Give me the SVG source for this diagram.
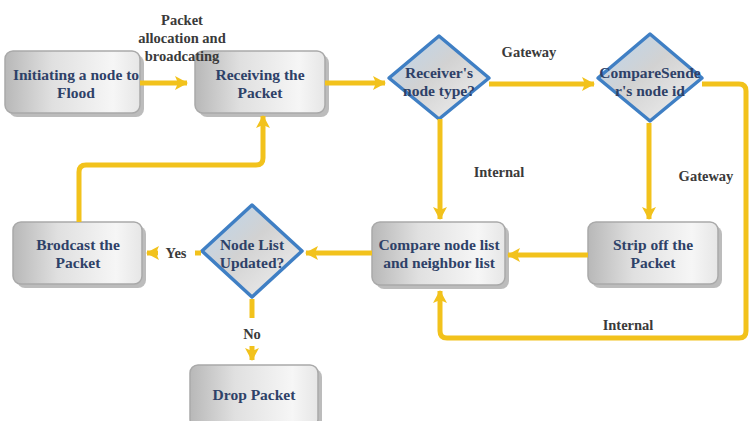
<svg xmlns="http://www.w3.org/2000/svg" width="752" height="421" viewBox="0 0 752 421">
<defs>
<linearGradient id="boxg" x1="0" y1="0" x2="1" y2="0">
<stop offset="0" stop-color="#b8b8b8"/>
<stop offset="0.35" stop-color="#e0e0e0"/>
<stop offset="0.8" stop-color="#f6f6f6"/>
<stop offset="1" stop-color="#e6e6e6"/>
</linearGradient>
<linearGradient id="diag" x1="0" y1="0" x2="1" y2="1">
<stop offset="0" stop-color="#b9d6f2"/>
<stop offset="0.45" stop-color="#d2d2d2"/>
<stop offset="0.75" stop-color="#e4e4e4"/>
<stop offset="1" stop-color="#c9dcf0"/>
</linearGradient>
<marker id="ah" markerUnits="userSpaceOnUse" markerWidth="14" markerHeight="14" viewBox="0 0 14 14" refX="12" refY="7" orient="auto">
<path d="M0,0 L13,7 L0,14 L3,7 Z" fill="#f2c21c"/>
</marker>
</defs>
<style>
.box{fill:url(#boxg);stroke:#a9a9a9;stroke-width:1.5}
.shadow{fill:#7a7a7a;opacity:0.5}
.dia{fill:url(#diag);stroke:#3f7fc4;stroke-width:3.5;stroke-linejoin:round}
.nt{font-family:"Liberation Serif","DejaVu Serif","Times New Roman",serif;font-weight:bold;font-size:15.5px;fill:#2e4168;text-anchor:middle}
.lb{font-family:"Liberation Serif","DejaVu Serif","Times New Roman",serif;font-weight:bold;font-size:14.5px;fill:#3a3a3a;text-anchor:middle}
.cn{fill:none;stroke:#f2c21c;stroke-width:5;stroke-linejoin:round}
</style>
<rect width="752" height="421" fill="#ffffff"/>
<g id="n-init">
<rect class="shadow" x="9" y="55" width="135" height="62" rx="8"/>
<rect class="box" x="5" y="51" width="135" height="62" rx="8"/>
<text class="nt" x="76" y="80">Initiating a node to</text>
<text class="nt" x="76" y="98">Flood</text>
</g>
<g id="n-recv">
<rect class="shadow" x="199" y="55" width="130" height="62" rx="8"/>
<rect class="box" x="195" y="51" width="130" height="62" rx="8"/>
<text class="nt" x="260" y="80">Receiving the</text>
<text class="nt" x="260" y="98">Packet</text>
</g>
<g id="d-type">
<path class="dia" d="M439,36 L489,78 L439,119 L389,78 Z"/>
<text class="nt" x="439" y="78">Receiver's</text>
<text class="nt" x="439" y="96">node type?</text>
</g>
<g id="d-compare">
<path class="dia" d="M650,34 L702,78 L650,121 L598,78 Z"/>
<text class="nt" x="650" y="78">CompareSende</text>
<text class="nt" x="650" y="96">r's node id</text>
</g>
<g id="n-comparelist">
<rect class="shadow" x="376" y="226" width="133" height="63" rx="8"/>
<rect class="box" x="372" y="222" width="133" height="63" rx="8"/>
<text class="nt" x="439" y="250">Compare node list</text>
<text class="nt" x="439" y="268">and neighbor list</text>
</g>
<g id="n-strip">
<rect class="shadow" x="592" y="226" width="130" height="62" rx="8"/>
<rect class="box" x="588" y="222" width="130" height="62" rx="8"/>
<text class="nt" x="653" y="250">Strip off the</text>
<text class="nt" x="653" y="268">Packet</text>
</g>
<g id="d-updated">
<path class="dia" d="M252,205 L302,251 L252,297 L202,251 Z"/>
<text class="nt" x="252" y="250">Node List</text>
<text class="nt" x="252" y="268">Updated?</text>
</g>
<g id="n-broadcast">
<rect class="shadow" x="17" y="226" width="129" height="62" rx="8"/>
<rect class="box" x="13" y="222" width="129" height="62" rx="8"/>
<text class="nt" x="78" y="250">Brodcast the</text>
<text class="nt" x="78" y="268">Packet</text>
</g>
<g id="n-drop">
<rect class="shadow" x="194" y="369" width="128" height="62" rx="8"/>
<rect class="box" x="190" y="365" width="128" height="62" rx="8"/>
<text class="nt" x="254" y="400">Drop Packet</text>
</g>
<g id="connectors">
<path class="cn" d="M140,83 H187" marker-end="url(#ah)"/>
<path class="cn" d="M325,83 H385" marker-end="url(#ah)"/>
<path class="cn" d="M489,84 H594" marker-end="url(#ah)"/>
<path class="cn" d="M702,84 H739 Q746,84 746,91 V331 Q746,338 739,338 H447 Q440,338 440,331 V291" marker-end="url(#ah)"/>
<path class="cn" d="M440,119 V219" marker-end="url(#ah)"/>
<path class="cn" d="M649,123 V219" marker-end="url(#ah)"/>
<path class="cn" d="M588,255 H508" marker-end="url(#ah)"/>
<path class="cn" d="M372,253 H306" marker-end="url(#ah)"/>
<path class="cn" d="M201,253 H195"/>
<path class="cn" d="M158,253 H147" marker-end="url(#ah)"/>
<path class="cn" d="M79,222 V172 Q79,165 86,165 H256 Q263,165 263,158 V116" marker-end="url(#ah)"/>
<path class="cn" d="M252,299 V318"/>
<path class="cn" d="M252,346 V360" marker-end="url(#ah)"/>
<text class="lb" x="182" y="25">Packet</text>
<text class="lb" x="182" y="43">allocation and</text>
<text class="lb" x="182" y="61">broadcating</text>
<text class="lb" x="529" y="57">Gateway</text>
<text class="lb" x="499" y="177">Internal</text>
<text class="lb" x="706" y="181">Gateway</text>
<text class="lb" x="628" y="330">Internal</text>
<text class="lb" x="176" y="258">Yes</text>
<text class="lb" x="252" y="339">No</text>
</g>
</svg>
